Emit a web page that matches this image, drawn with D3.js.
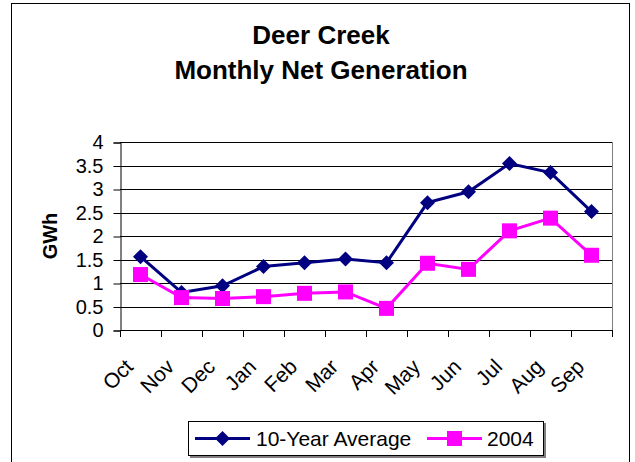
<!DOCTYPE html>
<html>
<head>
<meta charset="utf-8">
<script src="https://cdn.jsdelivr.net/npm/d3@7"></script>
<style>
  html, body { margin: 0; padding: 0; background: #fff; }
  svg { display: block; font-family: "Liberation Sans", Arial, sans-serif; }
</style>
</head>
<body>
<svg id="chart" width="635" height="462"></svg>
<script>
const months = ["Oct","Nov","Dec","Jan","Feb","Mar","Apr","May","Jun","Jul","Aug","Sep"];
const avg10  = [1.56, 0.80, 0.94, 1.35, 1.43, 1.51, 1.43, 2.71, 2.94, 3.54, 3.35, 2.52];
const y2004  = [1.18, 0.69, 0.67, 0.71, 0.78, 0.81, 0.46, 1.42, 1.29, 2.11, 2.38, 1.59];
const yTicks = [0, 0.5, 1, 1.5, 2, 2.5, 3, 3.5, 4];
const seriesNames = ["10-Year Average", "2004"];
const titleLines = ["Deer Creek", "Monthly Net Generation"];
const yTitle = "GWh";

const svg = d3.select("#chart");
const plot = { left: 120, right: 612, top: 142, bottom: 330 };

// chart border
svg.append("rect").attr("x", 11.5).attr("y", 3.5).attr("width", 618).attr("height", 480)
  .attr("fill", "none").attr("stroke", "#000").attr("stroke-width", 1);

const x = d3.scaleBand().domain(months).range([plot.left, plot.right]).padding(0);
const y = d3.scaleLinear().domain([0, 4]).range([plot.bottom, plot.top]);

// gridlines
svg.append("g").selectAll("line").data(yTicks.filter(d => d > 0)).join("line")
  .attr("x1", plot.left).attr("x2", plot.right)
  .attr("y1", d => Math.round(y(d)) + 0.5).attr("y2", d => Math.round(y(d)) + 0.5)
  .attr("stroke", "#000").attr("stroke-width", 1);

// right border of plot area
svg.append("line").attr("x1", plot.right + 0.5).attr("x2", plot.right + 0.5)
  .attr("y1", plot.top).attr("y2", plot.bottom).attr("stroke", "#808080");

// y axis
const yAxis = d3.axisLeft(y).tickValues(yTicks).tickSize(7).tickPadding(10)
  .tickFormat(d => String(d));
const gy = svg.append("g").attr("transform", `translate(${plot.left + 0.5},0.5)`).call(yAxis);
gy.select(".domain").attr("stroke", "#000");
gy.selectAll(".tick line").attr("stroke", "#000");
gy.selectAll(".tick text").attr("font-size", 20).attr("fill", "#000")
  .attr("font-family", "'Liberation Sans', Arial, sans-serif");

// x axis line and boundary ticks
const bounds = months.map(m => x(m)).concat([x.range()[1]]);
svg.append("line").attr("x1", plot.left).attr("x2", plot.right + 1)
  .attr("y1", plot.bottom + 0.5).attr("y2", plot.bottom + 0.5).attr("stroke", "#000");
svg.append("g").selectAll("line").data(bounds).join("line")
  .attr("x1", d => Math.round(d) + 0.5).attr("x2", d => Math.round(d) + 0.5)
  .attr("y1", plot.bottom).attr("y2", plot.bottom + 7).attr("stroke", "#000");

// x labels
svg.append("g").selectAll("text").data(months).join("text")
  .attr("transform", d => `translate(${x(d) + x.bandwidth() / 2 - 6},368) rotate(-45)`)
  .attr("text-anchor", "end").attr("font-size", 21).attr("fill", "#000")
  .text(d => d);

// y title
svg.append("text").attr("transform", "translate(56.5,236) rotate(-90)")
  .attr("text-anchor", "middle").attr("font-size", 20).attr("font-weight", "bold")
  .text(yTitle);

// title
svg.append("g").selectAll("text").data(titleLines).join("text")
  .attr("x", 321).attr("y", (d, i) => 44 + i * 35)
  .attr("text-anchor", "middle").attr("font-size", 26).attr("font-weight", "bold")
  .text(d => d);

// series
const cx = (d, i) => x(months[i]) + x.bandwidth() / 2;
const line = d3.line().x((d, i) => cx(d, i)).y(d => y(d));
const colors = ["#000080", "#FF00FF"];

svg.append("path").datum(avg10).attr("d", line).attr("fill", "none")
  .attr("stroke", colors[0]).attr("stroke-width", 3);
svg.append("path").datum(y2004).attr("d", line).attr("fill", "none")
  .attr("stroke", colors[1]).attr("stroke-width", 3);

const diamond = (cxv, cyv, r) => `M${cxv},${cyv - r}L${cxv + r},${cyv}L${cxv},${cyv + r}L${cxv - r},${cyv}Z`;

svg.append("g").selectAll("path").data(avg10).join("path")
  .attr("d", (d, i) => diamond(cx(d, i), y(d), 7.5)).attr("fill", colors[0]);
svg.append("g").selectAll("rect").data(y2004).join("rect")
  .attr("x", (d, i) => cx(d, i) - 7.5).attr("y", d => y(d) - 7.5)
  .attr("width", 15).attr("height", 15).attr("fill", colors[1]);

// legend
const lg = svg.append("g");
lg.append("rect").attr("x", 190).attr("y", 423).attr("width", 356).attr("height", 35).attr("fill", "#808080");
lg.append("rect").attr("x", 188.5).attr("y", 421.5).attr("width", 355).attr("height", 34)
  .attr("fill", "#fff").attr("stroke", "#000").attr("stroke-width", 1);
const legendItems = [
  { name: seriesNames[0], x0: 195, x1: 250, tx: 256, color: colors[0], shape: "diamond" },
  { name: seriesNames[1], x0: 427, x1: 482, tx: 487, color: colors[1], shape: "square" }
];
legendItems.forEach(it => {
  const ly = 438.5;
  lg.append("line").attr("x1", it.x0).attr("x2", it.x1).attr("y1", ly).attr("y2", ly)
    .attr("stroke", it.color).attr("stroke-width", 3);
  const mx = (it.x0 + it.x1) / 2;
  if (it.shape === "diamond") {
    lg.append("path").attr("d", diamond(mx, ly, 7.5)).attr("fill", it.color);
  } else {
    lg.append("rect").attr("x", mx - 7.5).attr("y", ly - 7.5).attr("width", 15).attr("height", 15).attr("fill", it.color);
  }
  lg.append("text").attr("x", it.tx).attr("y", 446).attr("font-size", 21).attr("fill", "#000").text(it.name);
});
</script>
</body>
</html>
